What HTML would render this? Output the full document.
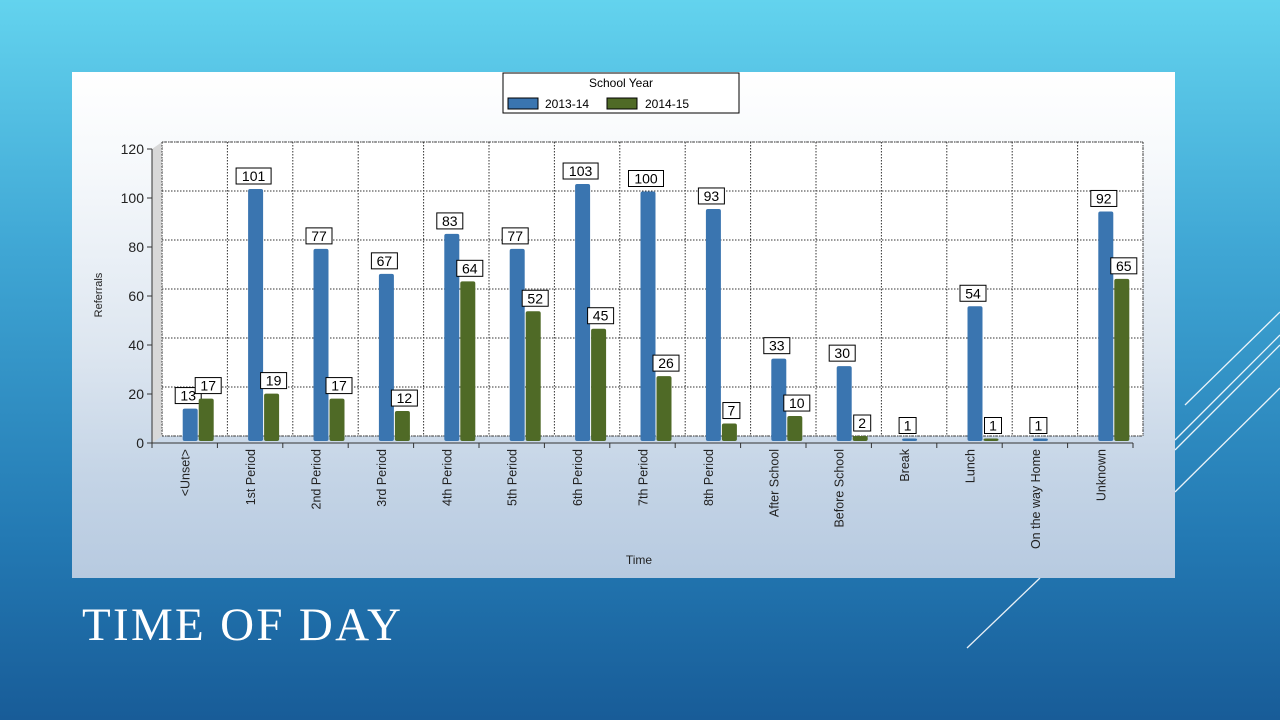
<!DOCTYPE html>
<html><head><meta charset="utf-8"><style>
html,body{margin:0;padding:0;width:1280px;height:720px;overflow:hidden}
body{background:linear-gradient(180deg,#63d3ee 0%,#3fa6d4 35%,#2379b3 75%,#185c98 100%);position:relative;font-family:"Liberation Sans",sans-serif}
#panel{position:absolute;left:72px;top:72px;width:1103px;height:506px;background:linear-gradient(180deg,#ffffff 0%,#f5f8fb 20%,#dde6f0 55%,#c4d4e6 80%,#b7cae0 100%)}
#title{position:absolute;left:82px;top:598px;color:#fff;font-family:"Liberation Serif",serif;font-size:47px;letter-spacing:2.3px}
</style></head><body>
<div id="title">TIME OF DAY</div>
<svg style="position:absolute;left:0;top:0" width="1280" height="720">
<g stroke="#fff" stroke-width="1.3" fill="none" opacity="0.9">
<line x1="1185" y1="405" x2="1280" y2="312"/><line x1="1175" y1="440" x2="1280" y2="335"/><line x1="1175" y1="450" x2="1280" y2="345"/><line x1="1175" y1="492" x2="1280" y2="388"/><line x1="967" y1="648" x2="1040" y2="578"/>
</g></svg>
<div id="panel"></div>
<svg id="chart" style="position:absolute;left:0;top:0" width="1280" height="720" font-family="Liberation Sans, sans-serif"></svg>
<script>
const categories=["<Unset>","1st Period","2nd Period","3rd Period","4th Period","5th Period","6th Period","7th Period","8th Period","After School","Before School","Break","Lunch","On the way Home","Unknown"];
const series2013=[13,101,77,67,83,77,103,100,93,33,30,1,54,1,92];
const series2014=[17,19,17,12,64,52,45,26,7,10,2,0,1,0,65];
const yTicks=[0,20,40,60,80,100,120];
const svg=document.getElementById('chart');const NS='http://www.w3.org/2000/svg';
function mk(t,a,p){const e=document.createElementNS(NS,t);for(const k in a)e.setAttribute(k,a[k]);(p||svg).appendChild(e);return e;}
const x0=152,cw=65.4,dx=10,dy=-7;
function yFront(v){return 443-v*2.45;}
function yBar(v){return 441-v*2.495;}
function xCat(i){return x0+cw*(i+0.5);}
const back=mk('rect',{x:x0+dx,y:yFront(120)+dy,width:cw*15,height:120*2.45,fill:'#fff',stroke:'#555','stroke-dasharray':'1,1'});

mk('polygon',{points:`${x0},${yFront(120)} ${x0+dx},${yFront(120)+dy} ${x0+dx},${yFront(0)+dy} ${x0},${yFront(0)}`,fill:'#d8d8d8'});
yTicks.forEach(t=>{
 const g=mk('line',{x1:x0+dx,x2:x0+dx+cw*15,y1:yFront(t)+dy,y2:yFront(t)+dy,stroke:'#333','stroke-dasharray':'1.5,1.5'});
 
 mk('line',{x1:x0-5,x2:x0,y1:yFront(t),y2:yFront(t),stroke:'#333'});
 const l=mk('text',{x:x0-8,y:yFront(t)+5,'text-anchor':'end','font-size':14,fill:'#222'});l.textContent=t;
 
});
for(let i=0;i<=15;i++){mk('line',{x1:x0+dx+cw*i,x2:x0+dx+cw*i,y1:yFront(120)+dy,y2:yFront(0)+dy,stroke:'#333','stroke-dasharray':'1.5,1.5'});
 mk('line',{x1:x0+cw*i,x2:x0+cw*i,y1:443,y2:448,stroke:'#333'});}
mk('line',{x1:x0,x2:x0,y1:yFront(120),y2:443,stroke:'#333'});
mk('line',{x1:x0,x2:x0+cw*15,y1:443,y2:443,stroke:'#333'});
function label(cx,v,y){const w=String(v).length*9+8;
 const r=mk('rect',{x:cx-w/2,y:y-19,width:w,height:16,fill:'#fff',stroke:'#000'});
 
 const t=mk('text',{x:cx,y:y-6,'text-anchor':'middle','font-size':14,fill:'#000'});t.textContent=v;
 }
categories.forEach((c,i)=>{
 const cx=xCat(i)+13;
 [[series2013[i],'#3a75b0',cx-15,'bar-2013-14'],[series2014[i],'#4f6a26',cx+1,'bar-2014-15']].forEach(([v,col,x,n],k)=>{
  if(v<=0)return;
  const y=yBar(v);
  const b=mk('rect',{x:x,y:y,width:15,height:441-y,fill:col,rx:2});
  
  label(x+7.5-(k==0?2:-2),v,y-2);
 });
 const tx=xCat(i)+5;
 const t=mk('text',{x:tx,y:449,'text-anchor':'end','font-size':12.5,fill:'#222',transform:`rotate(-90 ${tx} 449)`});t.textContent=c;
 
});
let t=mk('text',{x:102,y:295,'text-anchor':'middle','font-size':11,fill:'#222',transform:'rotate(-90 102 295)'});t.textContent='Referrals';

t=mk('text',{x:639,y:564,'text-anchor':'middle','font-size':12,fill:'#222'});t.textContent='Time';

const lg=mk('g',{});
mk('rect',{x:503,y:73,width:236,height:40,fill:'#fff',stroke:'#000'},lg);
t=mk('text',{x:621,y:87,'text-anchor':'middle','font-size':12,fill:'#000'},lg);t.textContent='School Year';
mk('rect',{x:508,y:98,width:30,height:11,fill:'#3a75b0',stroke:'#000'},lg);
t=mk('text',{x:545,y:108,'font-size':12,fill:'#000'},lg);t.textContent='2013-14';

mk('rect',{x:607,y:98,width:30,height:11,fill:'#4f6a26',stroke:'#000'},lg);
t=mk('text',{x:645,y:108,'font-size':12,fill:'#000'},lg);t.textContent='2014-15';

</script>
</body></html>
